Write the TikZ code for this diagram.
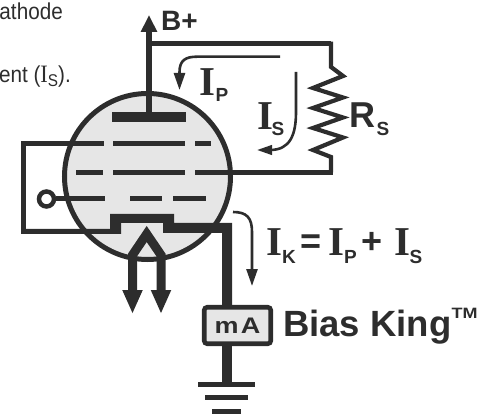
\documentclass[tikz,border=0pt]{standalone}
\usepackage{fontspec}
\usepackage{graphicx}
\setmainfont{Liberation Sans}
\setsansfont{Liberation Sans}
\newfontfamily\serf{Liberation Serif}
\usetikzlibrary{arrows.meta}
\definecolor{ink}{HTML}{2D2D2D}
\definecolor{bulb}{HTML}{E6E6E6}
\newcommand{\fs}[1]{\fontsize{#1}{#1}\selectfont}
\newcommand{\bigI}{{\serf\bfseries\fs{41}I}}
\newcommand{\subL}[1]{{\sffamily\bfseries\fs{19}#1}}
\tikzset{
  txt/.style={inner sep=0pt,anchor=base west,text=ink},
  gridbar/.style={draw=ink,line width=5pt},
  wire/.style={draw=ink,line width=5pt,line join=miter},
  current/.style={draw=ink,line width=2.6pt,-{Triangle[length=17pt,width=11pt]}},
  fat/.style={draw=ink,line width=9pt,line join=miter,{Triangle[length=24pt,width=18.5pt]}-{Triangle[length=24pt,width=18.5pt]}},
}
\begin{document}
\begin{tikzpicture}[x=1pt,y=-1pt]
\useasboundingbox (0,0) rectangle (490,414);
% clipped caption fragments
\node[inner sep=0pt,anchor=base east,text=ink] (capA) at (63,20) {\scalebox{0.9}[1]{\fs{23}athode}};
\node[inner sep=0pt,anchor=base east,text=ink] (capB) at (71,83) {\scalebox{0.9}[1]{\fs{23}ent ({\serf\fs{25}I}\raisebox{-4pt}{\fs{17}S}).}};
% envelope
\node[circle,draw=ink,fill=bulb,line width=5pt,minimum size=166pt,inner sep=0pt] (tube) at (147.5,176.5) {};
% plate
\node[fill=ink,minimum width=74pt,minimum height=10pt,inner sep=0pt] (plate) at (149,117) {};
\coordinate (bplus) at (149,15);
\coordinate (top) at (149,43.7);
\coordinate (tr) at (331,43.7);
\draw[draw=ink,line width=6pt,-{Triangle[length=17pt,width=15.5pt]}] (plate.center) -- (bplus);
\draw[wire] (top) -- (tr);
% resistor
\coordinate (rbot) at (331,172.5);
\draw[draw=ink,line width=4.2pt,line join=miter] (333,43.7) -- (331,43.7) -- (331,67) -- (343,76) -- (313,88) -- (343,97.5) -- (313,108) -- (343,117.5) -- (313,128) -- (343,137.5) -- (313,150) -- (331,157) -- (rbot);
% grids
\coordinate (g1l) at (23.5,143.7);
\draw[gridbar] (g1l) -- (104,143.7);
\draw[gridbar] (113,143.7) -- (185,143.7);
\draw[gridbar] (195,143.7) -- (211,143.7);
\draw[gridbar] (76,172.5) -- (103,172.5);
\draw[gridbar] (113,172.5) -- (185,172.5);
\draw[gridbar] (195,172.5) -- (333,172.5);
\node[circle,draw=ink,fill=white,line width=4.5pt,minimum size=15pt,inner sep=0pt] (term) at (46.5,199) {};
\draw[gridbar] (term.east) -- (105,199);
\draw[gridbar] (130,199) -- (162,199);
\draw[gridbar] (173,199) -- (206,199);
% cathode and heater
\draw[draw=ink,line width=4.6pt,line cap=rect] (23.5,231.5) -- (g1l);
\fill[ink] (21.2,229) -- (110,229) -- (110,214) -- (174,214) -- (174,223) -- (232,223) -- (232,305) -- (222,305) -- (222,233) -- (163,233) -- (163,223) -- (121,223) -- (121,234) -- (21.2,234) -- cycle;
\coordinate (hl) at (132.5,314);
\coordinate (hr) at (161,314);
\draw[fat] (hl) -- (132.5,255) -- (146.7,234) -- (161,255) -- (hr);
% meter
\node[draw=ink,fill=bulb,line width=4.6pt,rounded corners=3pt,minimum width=66.5pt,minimum height=36.5pt,inner sep=0pt,text=ink] (meter) at (237.5,325.5) {\scalebox{1.2}[1]{\bfseries\fs{22.5}m\kern2pt A}};
% ground
\coordinate (gnd) at (227,384);
\draw[draw=ink,line width=10pt] (meter.south -| gnd) -- (gnd);
\draw[draw=ink,line width=5pt] (198,384) -- (255,384);
\draw[draw=ink,line width=5pt] (205,397) -- (248,397);
\draw[draw=ink,line width=5pt] (212,411) -- (241,411);
% current arrows
\coordinate (ipa) at (280,56.7);
\coordinate (ipb) at (179.5,90);
\draw[current] (ipa) -- (197,56.7) .. controls (186,56.7) and (179.5,60) .. (179.5,72) -- (ipb);
\coordinate (isa) at (296,72);
\coordinate (isb) at (257,150);
\draw[current,-{Triangle[length=15pt,width=9.5pt]}] (isa) -- (296,112) .. controls (296,135) and (290,150) .. (270,150) -- (isb);
\coordinate (ika) at (233,212);
\coordinate (ikb) at (252,286);
\draw[current] (ika) .. controls (247,212) and (252,218) .. (252,232) -- (ikb);
% labels
\node[txt] (bp) at (161,31) {\bfseries\fs{28}B+};
\node[txt] (ip) at (199,96) {\bigI};
\node[txt] (ips) at (215.5,102) {\subL{P}};
\node[txt] (is) at (257,130) {\bigI};
\node[txt] (iss) at (271.5,136) {\subL{S}};
\node[txt] (rs) at (349,128) {\bfseries\fs{36}R};
\node[txt] (rss) at (376.5,136) {\subL{S}};
\node[txt] (ik) at (266,255) {\bigI};
\node[txt] (iks) at (282,263) {\subL{K}};
\node[txt] (eq) at (300.5,254) {\sffamily\bfseries\fs{36}=};
\node[txt] (ik2) at (328,255) {\bigI};
\node[txt] (ik2s) at (344,263) {\subL{P}};
\node[txt] (pl) at (361.5,254) {\sffamily\bfseries\fs{36}+};
\node[txt] (ik3) at (394,255) {\bigI};
\node[txt] (ik3s) at (409.5,263) {\subL{S}};
\node[txt] (brand) at (283,336) {\bfseries\fs{36.5}Bias King\raisebox{18pt}{\scalebox{1.2}[1]{\fs{15}TM}}};
\end{tikzpicture}
\end{document}
